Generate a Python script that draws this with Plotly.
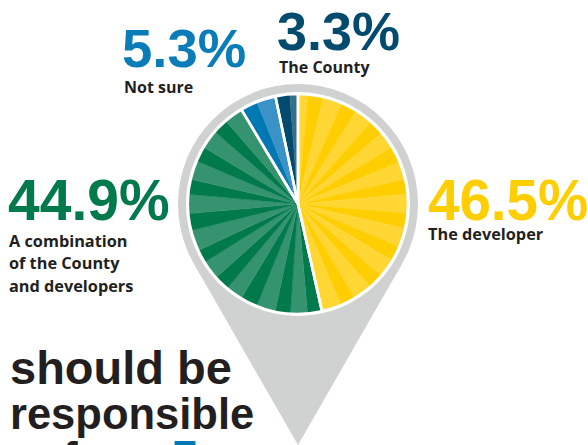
import plotly.graph_objects as go

W, H = 588, 445
CX, CY = 298, 204

# Stripe widths (share of the full pie, percent), clockwise from 12 o'clock
developer_stripes = [1.5, 2.19, 2.86, 2.33, 2.72, 2.19, 2.58, 2.39, 2.61, 2.22, 2.78, 2.22, 2.78, 2.22, 2.78, 2.22, 2.78, 2.22, 2.91]
combination_stripes = [2.11, 2.5, 2.22, 2.78, 2.5, 2.5, 2.22, 2.78, 1.94, 3.06, 2.5, 2.78, 2.22, 2.78, 2.22, 2.78, 2.22, 2.78]
notsure_stripes = [2.5, 2.8]
county_stripes = [2.1, 1.2]
group_shares = [46.5, 44.9, 5.3, 3.3]

YELLOW = ["#FFD633", "#FFCE00"]
GREEN = ["#007A4B", "#35936F"]
BLUE = ["#0078B4", "#3A92C6"]
NAVY = ["#024B6E", "#376F8B"]
GRAY = "#D0D2D1"
INK = "#231F20"

vals, cols = [], []
for stripes, pal in [(developer_stripes, YELLOW), (combination_stripes, GREEN),
                     (notsure_stripes, BLUE), (county_stripes, NAVY)]:
    for i, v in enumerate(stripes):
        vals.append(v)
        cols.append(pal[i % 2])

def px(x): return x / W
def py(y): return 1 - y / H

R_PIE = 110
dom = dict(x=[px(CX - R_PIE), px(CX + R_PIE)], y=[py(CY + R_PIE), py(CY - R_PIE)])

fig = go.Figure()
fig.add_trace(go.Pie(values=vals, sort=False, direction="clockwise", rotation=0, hole=0,
                     marker=dict(colors=cols, line=dict(color=cols, width=0.4)), textinfo="none",
                     hoverinfo="skip", showlegend=False, domain=dom))
fig.add_trace(go.Pie(values=group_shares, sort=False, direction="clockwise", rotation=0,
                     marker=dict(colors=["rgba(0,0,0,0)"] * 4, line=dict(color="white", width=2.6)),
                     textinfo="none", hoverinfo="skip", showlegend=False, domain=dom))

R_OUT, R_WHITE = 120, 112
shapes = [
    dict(type="circle", xref="paper", yref="paper", layer="below", line_width=0, fillcolor=GRAY,
         x0=px(CX - R_OUT), x1=px(CX + R_OUT), y0=py(CY + R_OUT), y1=py(CY - R_OUT)),
    dict(type="path", xref="paper", yref="paper", layer="below", line_width=0, fillcolor=GRAY,
         path=f"M {px(194)} {py(264)} L {px(298)} {py(445)} L {px(402)} {py(264)} Z"),
    dict(type="circle", xref="paper", yref="paper", layer="below", line_width=0, fillcolor="white",
         x0=px(CX - R_WHITE), x1=px(CX + R_WHITE), y0=py(CY + R_WHITE), y1=py(CY - R_WHITE)),
]

def note(text, x, y, size, color, family="Liberation Sans"):
    return dict(text=text, x=px(x), y=py(y), xref="paper", yref="paper", showarrow=False,
                xanchor="left", yanchor="middle", align="left",
                font=dict(size=size, color=color, family=family), borderpad=0)

LABEL = "Open Sans"
annotations = [
    note("<b>5.3%</b>", 121, 49, 54.5, "#0A7DB8"),
    note("<b>3.3%</b>", 276, 31, 54, "#024B6E"),
    note("<b>44.9%</b>", 7, 200, 57, "#007A4B"),
    note("<b>46.5%</b>", 427, 200, 56.5, "#FFCE00"),
    note("<b>Not sure</b>", 123, 87, 16, INK, LABEL),
    note("<b>The County</b>", 278, 67, 16, INK, LABEL),
    note("<b>The developer</b>", 427, 234, 16.3, INK, LABEL),
    note("<b>A combination</b>", 8, 241, 16.3, INK, LABEL),
    note("<b>of the County</b>", 8, 263, 16.3, INK, LABEL),
    note("<b>and developers</b>", 8, 286, 16.3, INK, LABEL),
    note("<b>should be</b>", 9, 367, 47, INK),
    note("<b>responsible</b>", 9, 414, 43.5, INK),
    note("<b>f</b>", 62, 458, 44, INK),
    note("<b>5</b>", 170, 459, 50, "#0078B4"),
]

fig.update_layout(width=W, height=H, margin=dict(l=0, r=0, t=0, b=0),
                  paper_bgcolor="white", plot_bgcolor="white",
                  shapes=shapes, annotations=annotations)
fig.write_html("out.html", config={"displayModeBar": False},
               post_script="document.body.style.margin='0';")
